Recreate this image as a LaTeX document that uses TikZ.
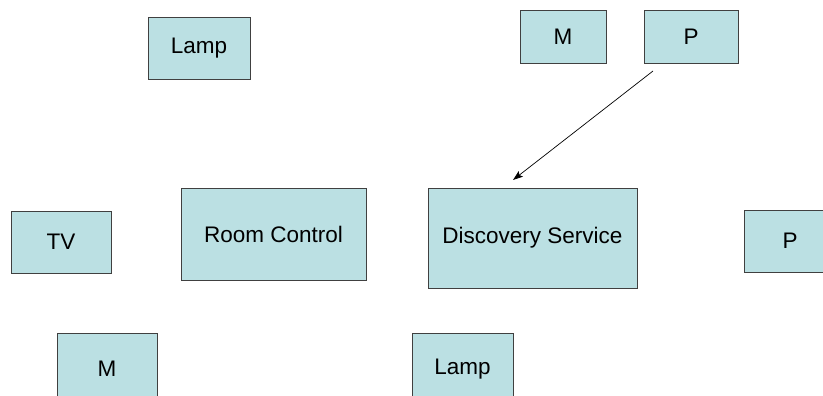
\documentclass[tikz,border=0pt]{standalone}
\usepackage{fontspec}
\setmainfont{Liberation Sans}
\usepackage{tikz}
\usetikzlibrary{arrows.meta}
\definecolor{boxfill}{RGB}{187,224,227}
\definecolor{boxline}{RGB}{64,64,64}
\tikzstyle{unit} = [rectangle, draw=boxline, fill=boxfill, line width=0.8pt, inner sep=0pt, text centered, font=\fontsize{22.5}{27}\selectfont]
\tikzstyle{call} = [-{Stealth[length=10pt, width=7pt, inset=2pt]}, line width=0.7pt]

\begin{document}
\begin{tikzpicture}[x=1pt, y=-1pt]

  \useasboundingbox (0,0) rectangle (823,396);
  \clip (0,0) rectangle (823,396);

  % top row
  \node[unit, minimum width=102pt, minimum height=62pt] (lampTop) at (199,48) {Lamp};
  \node[unit, minimum width=86pt, minimum height=53pt] (mTop) at (563,36.5) {M};
  \node[unit, minimum width=94pt, minimum height=53pt] (pTop) at (691,36.5) {P};

  % middle row
  \node[unit, minimum width=100pt, minimum height=62pt] (tv) at (61,242) {TV};
  \node[unit, minimum width=185pt, minimum height=92pt] (room) at (273.5,234) {Room Control};
  \node[unit, minimum width=209pt, minimum height=100pt] (disc) at (532.5,238) {Discovery Service};
  \node[unit, minimum width=92pt, minimum height=62pt] (pRight) at (790,241) {P};

  % bottom row, cut off by the page
  \node[unit, minimum width=100pt, minimum height=72pt] (mBottom) at (107,369) {M};
  \node[unit, minimum width=101pt, minimum height=72pt] (lampBottom) at (462.5,369) {Lamp};

  % lookup
  \coordinate (from) at (653,71);
  \coordinate (to) at (513,180);
  \draw[call] (from) -- (to);

\end{tikzpicture}
\end{document}
